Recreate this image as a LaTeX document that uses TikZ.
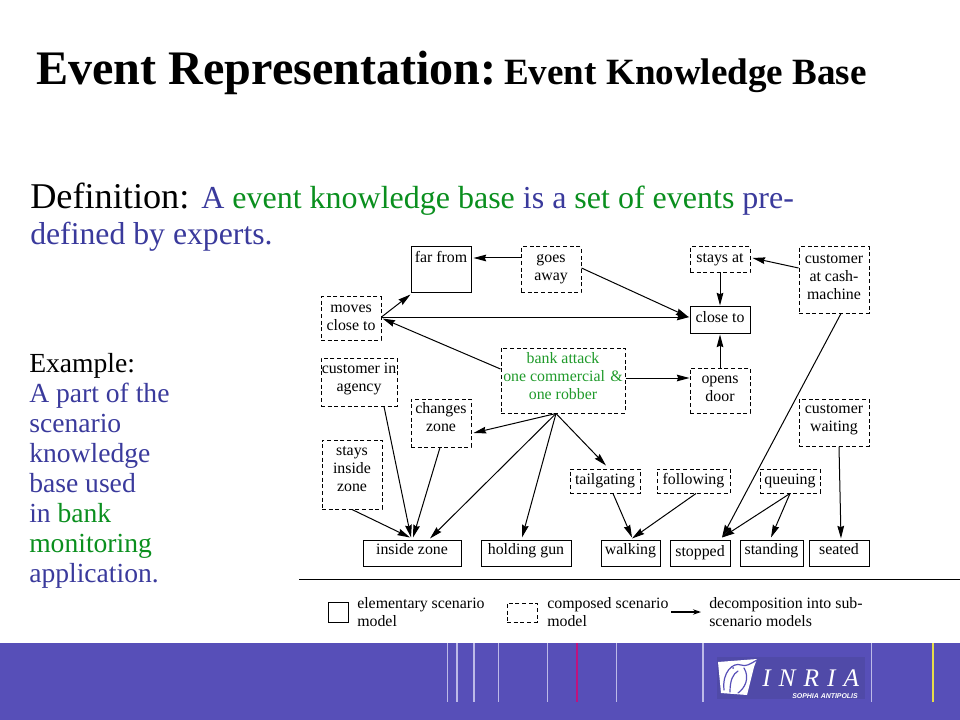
\documentclass[tikz,border=0pt]{standalone}
\usepackage{fontspec}
\setmainfont{Liberation Serif}
\newfontfamily\logosans{Liberation Sans}
\usetikzlibrary{arrows.meta,calc}
\definecolor{blu}{HTML}{3A3A9C}
\definecolor{grn}{HTML}{0A8F1E}
\definecolor{bankgrn}{HTML}{1F9A2A}
\definecolor{foot}{HTML}{574FB8}
\definecolor{logobg}{HTML}{504AA8}
\definecolor{footline}{HTML}{BDBAE8}
\definecolor{magline}{HTML}{C0127E}
\definecolor{yelline}{HTML}{E6DC4A}
\tikzset{
  solidbox/.style={draw=black,line width=0.75pt,inner sep=0pt,align=center,font=\fontsize{11.9}{13.5}\selectfont},
  dashbox/.style={solidbox,dash pattern=on 3pt off 2pt},
  conn/.style={draw=black,line width=0.75pt,-{Stealth[inset=1pt,length=9.5pt,width=5pt]}},
  tl/.style={anchor=base west,inner sep=0pt,align=left},
  legend/.style={anchor=north west,inner sep=0pt,align=left,font=\fontsize{11.9}{13.5}\selectfont},
  side/.style={anchor=base west,inner sep=0pt,font=\fontsize{20.7}{22}\selectfont},
  tick/.style={draw=footline,line width=0.8pt},
}
\newcommand{\bx}[7]{\node[#6,minimum width={(#4-#2)*0.75pt},minimum height={(#5-#3)*0.75pt}] (#1) at ({(#2+#4)/2},{(#3+#5)/2}) {#7};}
\newcommand{\tx}[2]{\raisebox{#1}[\height][\depth]{\begin{tabular}{@{}c@{}}#2\end{tabular}}}
\begin{document}
\begin{tikzpicture}[x=0.75pt,y=-0.75pt]
\useasboundingbox (0,0) rectangle (960,720);
% footer
\fill[foot] (0,643) rectangle (960,720);
\foreach \xx in {447.5,457,474,498.5,547.5,616.5,703,871.5}{\draw[tick] (\xx,643) -- (\xx,702);}
\draw[draw=magline,line width=1.5pt] (576.5,643) -- (576.5,702);
\draw[draw=yelline,line width=1.5pt] (933,643) -- (933,702);
\fill[logobg] (717,657) rectangle (865,699);
\fill[white] (718,662) -- (757,659) -- (754,667) -- (747,695) -- (721,693) -- cycle;
\draw[foot,line width=0.9pt,line cap=round] (724,690) .. controls (722,672) and (733,662) .. (741,665) .. controls (746,667) and (750,664) .. (757,660);
\draw[foot,line width=0.9pt,line cap=round] (730,692) .. controls (730,680) and (733,674) .. (738,671);
\draw[foot,line width=0.9pt,line cap=round] (744,668) .. controls (750,678) and (745,688) .. (738,693);
\fill[foot] (733,668) circle (1);
\node[anchor=base west,inner sep=0pt,text=white,font=\fontsize{19}{19}\itshape] (inria) at (762,686) {I\hspace{6pt}N\hspace{6pt}R\hspace{6pt}I\hspace{6pt}A};
\node[anchor=base west,inner sep=0pt,text=white,font=\logosans\fontsize{5.2}{6}\bfseries\itshape] (sophia) at (792,698) {SOPHIA ANTIPOLIS};
% title
\node[tl,font=\fontsize{36.1}{38}\bfseries] (t1) at (36,85) {Event Representation:};
\node[tl,font=\fontsize{27.8}{30}\bfseries] (t2) at (504,85) {Event Knowledge Base};
% definition
\node[tl,font=\fontsize{27.2}{30}\selectfont] (d0) at (30,209) {Definition:};
\node[tl,font=\fontsize{24}{27}\selectfont] (d1) at (201,209) {\textcolor{blu}{A} \textcolor{grn}{event knowledge base} \textcolor{blu}{is a} \textcolor{grn}{set of events} \textcolor{blu}{pre-}};
\node[tl,text=blu,font=\fontsize{23.8}{27}\selectfont] (d2) at (30,245) {defined by experts.};
% example
\node[side] (e1) at (29,372) {Example:};
\node[side,text=blu] (e2) at (29,402) {A part of the};
\node[side,text=blu] (e3) at (29,432) {scenario};
\node[side,text=blu] (e4) at (29,462) {knowledge};
\node[side,text=blu] (e5) at (29,492) {base used};
\node[side,text=blu] (e6) at (29,522) {in \textcolor{grn}{bank}};
\node[side,text=grn] (e7) at (29,552) {monitoring};
\node[side,text=blu] (e8) at (29,582) {application.};
% boxes
\bx{far}{411}{247}{471}{293}{solidbox}{\tx{8.25pt}{far from}}
\bx{goes}{521}{247}{581}{293}{dashbox}{\tx{1.5pt}{goes\\away}}
\bx{moves}{321}{297}{381}{340}{dashbox}{\tx{0.75pt}{moves\\close to}}
\bx{cin}{321}{358}{397}{406}{dashbox}{\tx{2.25pt}{customer in\\agency}}
\bx{changes}{411}{399}{471}{447}{dashbox}{\tx{3pt}{changes\\zone}}
\bx{bank}{501}{348}{625}{413}{dashbox,text=bankgrn}{\tx{2.25pt}{bank attack\\one commercial\hspace{4pt}\&\\one robber}}
\bx{staysat}{690}{247}{750}{273}{dashbox}{stays at}
\bx{cash}{799}{247}{869}{313}{dashbox}{\tx{1.5pt}{customer\\at cash-\\machine}}
\bx{close}{690}{307}{750}{333}{solidbox}{\tx{0.75pt}{close to}}
\bx{opens}{690}{368}{750}{413}{dashbox}{\tx{1.5pt}{opens\\door}}
\bx{waiting}{799}{399}{869}{446}{dashbox}{\tx{3pt}{customer\\waiting}}
\bx{staysin}{322}{440}{382}{509}{dashbox}{\tx{3.5pt}{stays\\inside\\zone}}
\bx{tail}{570}{469}{640}{493}{dashbox}{tailgating}
\bx{follow}{657}{469}{730}{493}{dashbox}{following}
\bx{queue}{760}{469}{820}{493}{dashbox}{queuing}
\bx{inside}{363}{540}{461}{566}{solidbox}{\tx{1.5pt}{inside zone}}
\bx{holding}{481}{540}{571}{566}{solidbox}{\tx{1.5pt}{holding gun}}
\bx{walking}{601}{540}{660}{566}{solidbox}{\tx{1.5pt}{walking}}
\bx{stopped}{670}{540}{730}{566}{solidbox}{stopped}
\bx{standing}{740}{540}{803}{566}{solidbox}{\tx{1.5pt}{standing}}
\bx{seated}{809}{540}{869}{566}{solidbox}{\tx{1.5pt}{seated}}
% connectors
\draw[conn] ($(goes.west)+(0,-12)$) -- ($(far.east)+(2,-12)$);
\draw[conn] ($(goes.east)+(0,-2)$) -- ($(close.west)+(-1,-3)$);
\draw[conn] ($(moves.east)+(0,-1.5)$) -- ($(far.south west)+(0,1)$);
\draw[conn] ($(moves.east)+(0,-1.5)$) -- ($(close.west)+(0,-3)$);
\draw[conn] ($(bank.west)+(0,-11.5)$) -- ($(moves.east)+(1,0)$);
\draw[conn] ($(bank.east)+(0,-2.5)$) -- ($(opens.west)+(0,-12.5)$);
\draw[conn] (opens.north) -- ($(close.south)+(0,1)$);
\draw[conn] (staysat.south) -- ($(close.north)+(0,-1)$);
\draw[conn] ($(cash.west)+(0,-12)$) -- ($(staysat.east)+(2,-2)$);
\draw[conn] ($(cash.south)+(7,0)$) -- ($(stopped.north)+(22,-2)$);
\draw[conn] ($(cin.south)+(25,0)$) -- ($(inside.north)+(-1,-2)$);
\draw[conn] ($(changes.south)+(-1,0)$) -- ($(inside.north)+(1,-2)$);
\draw[conn] (staysin.south) -- ($(inside.north)+(-2,-2)$);
\draw[conn] ($(bank.south)+(-7,0)$) -- ($(changes.east)+(2,10)$);
\draw[conn] ($(bank.south)+(-7,0)$) -- ($(inside.north)+(18,-1)$);
\draw[conn] ($(bank.south)+(-7,0)$) -- ($(holding.north)+(-4,-2)$);
\draw[conn] ($(bank.south)+(-7,0)$) -- ($(tail.north)+(1,-3)$);
\draw[conn] ($(tail.south)+(8,0)$) -- ($(walking.north)+(1.5,-2)$);
\draw[conn] ($(follow.south)+(2.5,0)$) -- ($(walking.north)+(1.5,-1)$);
\draw[conn] (queue.south) -- ($(stopped.north)+(22,-2)$);
\draw[conn] (queue.south) -- ($(standing.north)+(-0.5,-2)$);
\draw[conn] ($(waiting.south)+(5,0)$) -- ($(seated.north)+(2,-1)$);
% rule and legend
\coordinate (ruleL) at (299,579);
\coordinate (ruleR) at (960,579);
\draw[black,line width=0.75pt] (ruleL) -- (ruleR);
\bx{legsolid}{328}{602}{348}{622}{solidbox}{}
\bx{legdash}{507}{603}{537}{622}{dashbox}{}
\coordinate (arrA) at (671,612);
\coordinate (arrB) at (701,612);
\draw[black,line width=1.5pt,-{Stealth[length=6pt,width=4pt]}] (arrA) -- (arrB);
\node[legend] (l1) at (357,597) {elementary scenario\\model};
\node[legend] (l2) at (547,597) {composed scenario\\model};
\node[legend] (l3) at (709,597) {decomposition into sub-\\scenario models};
\end{tikzpicture}
\end{document}
